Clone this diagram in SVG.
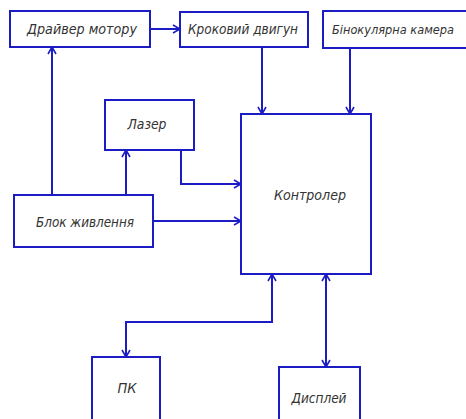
<svg xmlns="http://www.w3.org/2000/svg" width="466" height="419" viewBox="0 0 466 419">
<defs>
<marker id="ah" viewBox="-1 -5 9 10" refX="7" refY="0" markerWidth="9" markerHeight="10" markerUnits="userSpaceOnUse" orient="auto-start-reverse">
<path d="M0,-4 L7,0 L0,4" fill="none" stroke="#1c1cc4" stroke-width="1.6"/>
</marker>
</defs>
<style>
.box{fill:#fff;stroke:#1c1cc4;stroke-width:2}
.lbl{font-family:"Liberation Sans Narrow","DejaVu Sans Condensed","Liberation Sans",sans-serif;font-style:italic;font-size:14px;fill:#333;text-anchor:middle;dominant-baseline:central}
.c{fill:none;stroke:#1c1cc4;stroke-width:2;marker-end:url(#ah)}
.bi{marker-start:url(#ah)}
</style>
<rect width="466" height="419" fill="#fff"/>
<g id="connectors">
<path class="c" d="M52,195 V47"/>
<path class="c" d="M150,29 H180"/>
<path class="c" d="M262,47 V114"/>
<path class="c" d="M350,48 V114"/>
<path class="c" d="M126,195 V150"/>
<path class="c" d="M181,150 V184 H241"/>
<path class="c" d="M153,221 H241"/>
<path class="c bi" d="M272,274 V322 H126 V357"/>
<path class="c bi" d="M326,274 V367"/>
</g>
<g id="driver">
<rect class="box" x="10" y="11" width="140" height="36"/>
<text class="lbl" x="82" y="29" textLength="110" lengthAdjust="spacingAndGlyphs">Драйвер мотору</text>
</g>
<g id="stepper">
<rect class="box" x="180" y="12" width="128" height="35"/>
<text class="lbl" x="243" y="29" textLength="110" lengthAdjust="spacingAndGlyphs">Кроковий двигун</text>
</g>
<g id="camera">
<rect class="box" x="323" y="11" width="150" height="37"/>
<text class="lbl" x="393" y="29" style="font-size:13px" textLength="122" lengthAdjust="spacingAndGlyphs">Бінокулярна камера</text>
</g>
<g id="laser">
<rect class="box" x="105" y="100" width="89" height="50"/>
<text class="lbl" x="147" y="124" textLength="39" lengthAdjust="spacingAndGlyphs">Лазер</text>
</g>
<g id="power">
<rect class="box" x="14" y="195" width="139" height="52"/>
<text class="lbl" x="85" y="222" textLength="98" lengthAdjust="spacingAndGlyphs">Блок живлення</text>
</g>
<g id="controller">
<rect class="box" x="241" y="114" width="130" height="160"/>
<text class="lbl" x="310" y="195" textLength="72" lengthAdjust="spacingAndGlyphs">Контролер</text>
</g>
<g id="pc">
<rect class="box" x="92" y="357" width="68" height="70"/>
<text class="lbl" x="127" y="388" textLength="19" lengthAdjust="spacingAndGlyphs">ПК</text>
</g>
<g id="display">
<rect class="box" x="279" y="367" width="81" height="60"/>
<text class="lbl" x="319" y="398" textLength="55" lengthAdjust="spacingAndGlyphs">Дисплей</text>
</g>
</svg>
